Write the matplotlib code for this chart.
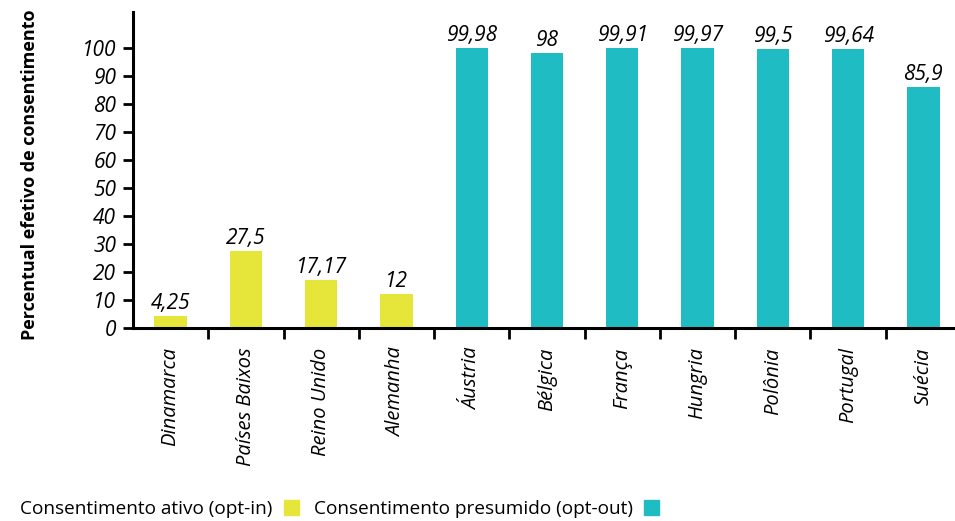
import matplotlib.pyplot as plt
from matplotlib.patches import Patch
import numpy as np

plt.rcParams['font.family'] = ['Open Sans', 'DejaVu Sans']

paises = ["Dinamarca", "Países Baixos", "Reino Unido", "Alemanha", "Áustria",
          "Bélgica", "França", "Hungria", "Polônia", "Portugal", "Suécia"]
valores = [4.25, 27.5, 17.17, 12, 99.98, 98, 99.91, 99.97, 99.5, 99.64, 85.9]
rotulos = ["4,25", "27,5", "17,17", "12", "99,98", "98", "99,91", "99,97",
           "99,5", "99,64", "85,9"]
opt_in = [True, True, True, True, False, False, False, False, False, False, False]

amarelo = "#e6e63a"
turquesa = "#20bcc4"

fig = plt.figure(figsize=(9.55, 5.21), dpi=100)
ax = fig.add_axes([133/955, 193/521, 828/955, 316/521])

x = np.arange(len(paises))
cores = [amarelo if o else turquesa for o in opt_in]
ax.bar(x, valores, width=0.43, color=cores)

for xi, v, r in zip(x, valores, rotulos):
    ax.text(xi, v + 0.8, r, ha='center', va='bottom', fontsize=15, style='italic')

ax.set_xlim(-0.5, len(paises) - 0.5)
ax.set_ylim(0, 112.8)
ax.set_yticks(np.arange(0, 101, 10))
ax.set_yticklabels([str(t) for t in range(0, 101, 10)], fontsize=15, style='italic')

# ticks nas fronteiras, rótulos no centro
ax.set_xticks(np.arange(0.5, len(paises) - 0.5, 1))
ax.set_xticklabels([])
ax.set_xticks(x, minor=True)
ax.set_xticklabels(paises, minor=True, rotation=90, fontsize=14.5, style='italic')
ax.tick_params(axis='x', which='major', length=8, width=2, direction='out')
ax.tick_params(axis='x', which='minor', length=0, pad=14)
ax.tick_params(axis='y', length=7, width=2, direction='out', pad=5)

for s in ['top', 'right']:
    ax.spines[s].set_visible(False)
for s in ['left', 'bottom']:
    ax.spines[s].set_linewidth(2.2)

fig.text(30/955, 346/521, "Percentual efetivo de consentimento", rotation=90,
         ha='center', va='center', fontsize=13, fontweight='bold')

handles = [Patch(color=amarelo), Patch(color=turquesa)]
fig.legend(handles, ["Consentimento ativo (opt-in)", "Consentimento presumido (opt-out)"],
           loc='lower left', bbox_to_anchor=(0.003, -0.027), ncol=2, markerfirst=False,
           frameon=False, fontsize=13.7, handlelength=0.78, handleheight=0.8,
           handletextpad=0.6, columnspacing=0.8)

fig.savefig("out.png", dpi=100)
